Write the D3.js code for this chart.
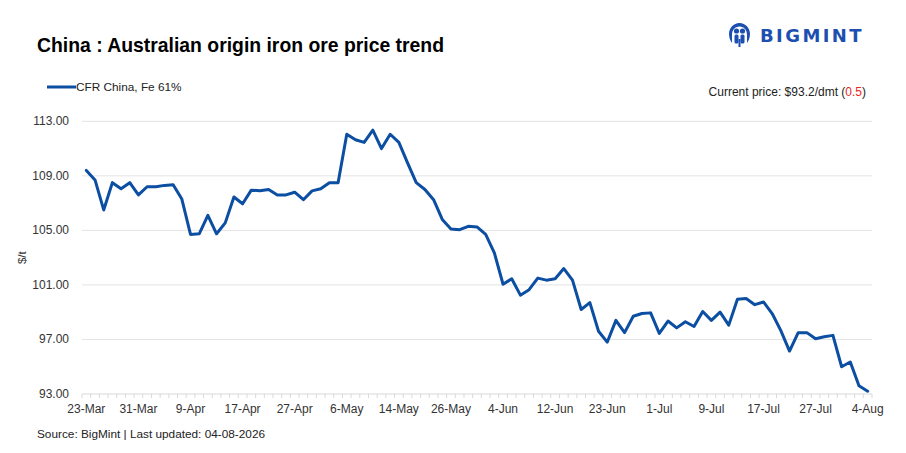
<!DOCTYPE html>
<html>
<head>
<meta charset="utf-8">
<script src="https://cdn.jsdelivr.net/npm/d3@7"></script>
<style>
  html, body { margin: 0; padding: 0; background: #fff; }
  svg { display: block; }
</style>
</head>
<body>
<svg id="chart" width="906" height="453"></svg>
<script>
const dates = [
  "23-Mar","24-Mar","25-Mar","26-Mar","27-Mar","30-Mar",
  "31-Mar","1-Apr","2-Apr","6-Apr","7-Apr","8-Apr",
  "9-Apr","10-Apr","13-Apr","14-Apr","15-Apr","16-Apr",
  "17-Apr","20-Apr","21-Apr","22-Apr","23-Apr","24-Apr",
  "27-Apr","28-Apr","29-Apr","30-Apr","4-May","5-May",
  "6-May","7-May","8-May","11-May","12-May","13-May",
  "14-May","15-May","18-May","19-May","20-May","21-May",
  "26-May","27-May","28-May","29-May","1-Jun","2-Jun",
  "4-Jun","5-Jun","8-Jun","9-Jun","10-Jun","11-Jun",
  "12-Jun","15-Jun","16-Jun","17-Jun","18-Jun","22-Jun",
  "23-Jun","24-Jun","25-Jun","26-Jun","29-Jun","30-Jun",
  "1-Jul","2-Jul","3-Jul","6-Jul","7-Jul","8-Jul",
  "9-Jul","10-Jul","13-Jul","14-Jul","15-Jul","16-Jul",
  "17-Jul","20-Jul","21-Jul","22-Jul","23-Jul","24-Jul",
  "27-Jul","28-Jul","29-Jul","30-Jul","31-Jul","3-Aug",
  "4-Aug"
];
const cfrChinaFe61 = [
  109.4,108.7,106.5,108.5,108.05,108.5,
  107.6,108.2,108.2,108.3,108.35,107.3,
  104.7,104.75,106.1,104.75,105.55,107.45,
  106.95,107.95,107.9,108.0,107.6,107.6,
  107.8,107.25,107.9,108.05,108.5,108.5,
  112.05,111.65,111.45,112.35,111.0,112.05,
  111.45,109.95,108.5,108.0,107.25,105.8,
  105.1,105.05,105.3,105.25,104.7,103.35,
  101.05,101.45,100.25,100.65,101.5,101.35,
  101.45,102.2,101.35,99.2,99.7,97.6,
  96.8,98.4,97.5,98.7,98.9,98.95,
  97.45,98.35,97.85,98.3,97.95,99.05,
  98.4,99.0,98.05,99.95,100.0,99.55,
  99.75,98.9,97.65,96.15,97.5,97.5,
  97.05,97.2,97.3,95.0,95.35,93.6,
  93.2
];
const yTicks = [93, 97, 101, 105, 109, 113];
const xLabelEvery = 6;
const seriesName = "CFR China, Fe 61%";
const currentPrice = "93.2";
const priceChange = "0.5";

(function () {
const svg = d3.select("#chart");
const pLeft = 82, pRight = 872, pTop = 121.3, pBottom = 394;

const xBand = d3.scaleBand().domain(dates).range([pLeft, pRight]).padding(0);
const x = d => xBand(d) + xBand.bandwidth() / 2;
const y = d3.scaleLinear().domain([93, 113]).range([pBottom, pTop]);

// title
svg.append("text").attr("x", 37).attr("y", 52)
  .attr("font-family", "'Liberation Sans',Arial,sans-serif")
  .attr("font-weight", "bold").attr("font-size", 21).attr("fill", "#000")
  .attr("textLength", 407).attr("lengthAdjust", "spacingAndGlyphs")
  .text("China : Australian origin iron ore price trend");

// logo
const logo = svg.append("g").attr("transform", "translate(729,23)");
logo.append("path")
  .attr("d", "M10.5,0 C4.5,0 0,5 0,11 C0,15 1.5,18 3,20 L3,12 C3,7 6,3.5 10.5,3.5 C15,3.5 18,7 18,12 L18,20 C19.5,18 21,15 21,11 C21,5 16.5,0 10.5,0 Z")
  .attr("fill", "#1d4fb0");
logo.append("circle").attr("cx", 7.5).attr("cy", 8).attr("r", 2.6).attr("fill", "#1d4fb0");
logo.append("circle").attr("cx", 13.5).attr("cy", 8).attr("r", 2.6).attr("fill", "#1d4fb0");
logo.append("rect").attr("x", 5.5).attr("y", 11.5).attr("width", 4).attr("height", 9).attr("rx", 1.5).attr("fill", "#1d4fb0");
logo.append("rect").attr("x", 11.5).attr("y", 11.5).attr("width", 4).attr("height", 9).attr("rx", 1.5).attr("fill", "#1d4fb0");
logo.append("rect").attr("x", 9.5).attr("y", 16).attr("width", 2).attr("height", 8).attr("fill", "#1d4fb0");
svg.append("text").attr("x", 760).attr("y", 42)
  .attr("font-family", "'DejaVu Sans','Liberation Sans',Arial,sans-serif")
  .attr("font-weight", "bold").attr("font-size", 18).attr("letter-spacing", 2.4)
  .attr("fill", "#1d4fb0").text("BIGMINT");

// legend
svg.append("line").attr("x1", 47).attr("x2", 76).attr("y1", 87).attr("y2", 87)
  .attr("stroke", "#0b4ea2").attr("stroke-width", 3);
svg.append("text").attr("x", 76).attr("y", 91)
  .attr("font-family", "'Liberation Sans',Arial,sans-serif").attr("font-size", 11.8)
  .attr("fill", "#222").text(seriesName);

// current price
const cp = svg.append("text").attr("x", 866).attr("y", 96).attr("text-anchor", "end")
  .attr("font-family", "'Liberation Sans',Arial,sans-serif").attr("font-size", 12).attr("fill", "#222");
cp.append("tspan").text("Current price: $" + currentPrice + "/dmt (");
cp.append("tspan").attr("fill", "#e8261e").text(priceChange);
cp.append("tspan").text(")");

// gridlines
svg.append("g").selectAll("line").data(yTicks.filter(t => t !== 93)).join("line")
  .attr("x1", pLeft).attr("x2", pRight)
  .attr("y1", d => y(d)).attr("y2", d => y(d))
  .attr("stroke", "#e3e3e3").attr("stroke-width", 1);

// y axis labels
svg.append("g").selectAll("text").data(yTicks).join("text")
  .attr("x", 69).attr("y", d => y(d) + 4).attr("text-anchor", "end")
  .attr("font-family", "'Liberation Sans',Arial,sans-serif").attr("font-size", 12)
  .attr("fill", "#333").text(d => d.toFixed(2));

svg.append("text")
  .attr("transform", `translate(26,${(pTop + pBottom) / 2}) rotate(-90)`)
  .attr("text-anchor", "middle")
  .attr("font-family", "'Liberation Sans',Arial,sans-serif").attr("font-size", 11.5)
  .attr("fill", "#333").text("$/t");

// x axis
const xAxis = svg.append("g");
xAxis.append("line").attr("x1", pLeft).attr("x2", pRight).attr("y1", pBottom).attr("y2", pBottom)
  .attr("stroke", "#d9d9d9").attr("stroke-width", 1);
const boundaries = dates.map(d => xBand(d)).concat([pRight]);
xAxis.selectAll("line.tick").data(boundaries).join("line").attr("class", "tick")
  .attr("x1", d => d).attr("x2", d => d).attr("y1", pBottom).attr("y2", pBottom + 4)
  .attr("stroke", "#d9d9d9").attr("stroke-width", 1);
xAxis.selectAll("text").data(dates.filter((d, i) => i % xLabelEvery === 0)).join("text")
  .attr("x", d => x(d)).attr("y", pBottom + 19).attr("text-anchor", "middle")
  .attr("font-family", "'Liberation Sans',Arial,sans-serif").attr("font-size", 12)
  .attr("fill", "#333").text(d => d);

// line
const line = d3.line().x((d, i) => x(dates[i])).y(d => y(d));
svg.append("path").datum(cfrChinaFe61)
  .attr("d", line).attr("fill", "none")
  .attr("stroke", "#0b4ea2").attr("stroke-width", 3)
  .attr("stroke-linejoin", "round").attr("stroke-linecap", "round");

// source
svg.append("text").attr("x", 37).attr("y", 438)
  .attr("font-family", "'Liberation Sans',Arial,sans-serif").attr("font-size", 11.8)
  .attr("fill", "#222").text("Source: BigMint | Last updated: 04-08-2026");
})();
</script>
</body>
</html>
